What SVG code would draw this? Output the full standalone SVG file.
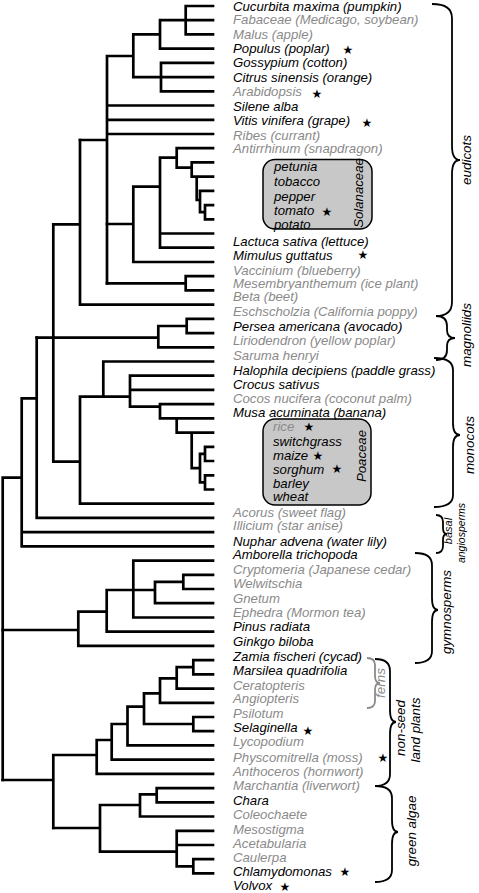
<svg xmlns="http://www.w3.org/2000/svg" width="479" height="893" viewBox="0 0 479 893">
<style>
text{font-family:"Liberation Sans",Arial,sans-serif;font-style:italic;font-size:13.2px}
.b{fill:#000}.g{fill:#8a8a8a}
.br{fill:none;stroke:#000;stroke-width:1.8}
.gl{font-size:13.4px}
.st{font-family:"DejaVu Sans",sans-serif;font-style:normal;font-size:12px;fill:#000;text-anchor:middle}
.box{fill:#c8c8c8;stroke:#000;stroke-width:1.5}
#tree path{fill:none;stroke:#000;stroke-width:2.7;stroke-linecap:square}
</style>
<g id="boxes">
<rect class="box" x="263" y="159.5" width="109" height="69.5" rx="12"/>
<rect class="box" x="263" y="419" width="108" height="86" rx="12"/>
</g>
<g id="tree">
<path d="M185.7 6H213M185.7 6V34.4M185.7 34.4H213M160 20.2H213M160 20.2V48.7M160 48.7H213M133.3 34.4H160M161 62.9H213M161 62.9V91.3M161 91.3H213M133.3 77.1H213M133.3 34.4V77.1M107 56H133.3M107 56V283.3M107 105.5H213M107 119.8H213M107 134H213M80 140H107"/>
<path d="M176.7 148.2H213M176.7 148.2V167.7M176.7 167.7H191.7M191.7 162.4V176.6M191.7 162.4H213M191.7 176.6H213M196.7 176.6V200M196.7 200H200M200 190.9V212.2M200 190.9H213M200 212.2H205M205 205.1V219.3M205 205.1H213M205 219.3H213M160 157.7H176.7M160 157.7V247.7M160 233.5H213M160 247.7H213M133.3 186.7H160M133.3 186.7V262M133.3 262H213M107 224H133.3M185.7 276.2V290.4M185.7 276.2H213M185.7 290.4H213M107 283.3H185.7M80 140V304.6M80 304.6H213M53.3 224.3H80"/>
<path d="M186.7 318.8V333.1M186.7 318.8H213M186.7 333.1H213M158.3 326H186.7M158.3 326V347.3M158.3 347.3H213M36.7 337.7H158.3"/>
<path d="M103.3 361.5V396.7M103.3 361.5H213M80 396.7H130M130 375.7V406.7M130 375.7H213M130 389.9H213M130 406.7H160M160 404.2V418.4M160 404.2H213M160 418.4H213M176.7 418.4V432.6M176.7 432.6H213M191.7 432.6V468.2M191.7 468.2H200M200 453.9V482.4M200 453.9H205M200 482.4H205M205 446.8V461M205 446.8H213M205 461H213M205 475.3V489.5M205 475.3H213M205 489.5H213M80 396.7V503.7M80 503.7H213M53.3 461.7H80M53.3 224.3V461.7"/>
<path d="M36.7 337.7V517.9M36.7 517.9H213M21.7 398.3H36.7M21.7 398.3V546.4M21.7 532.1H213M21.7 546.4H213M2.7 477.7H21.7M2.7 477.7V780"/>
<path d="M2.7 630H78.3M78.3 611.7V645.9M78.3 645.9H213M78.3 611.7H106.7M106.7 590V631.7M106.7 631.7H213M106.7 590H155M133.3 560.6V617.5M133.3 560.6H213M133.3 617.5H213M155 581.9V603.2M155 603.2H213M155 581.9H183.3M183.3 574.8V589M183.3 574.8H213M183.3 589H213"/>
<path d="M2.7 780H53.3M53.3 755V828M53.3 755H96.7M96.7 740V773.9M96.7 773.9H213M96.7 740H111.7M111.7 724V759.7M111.7 759.7H213M111.7 724H127.5M127.5 706.7V745.4M127.5 745.4H213M127.5 706.7H144M144 693.3V724M144 724H193.3M193.3 717V731.2M193.3 717H213M193.3 731.2H213M144 693.3H160M160 678.3V702.8M160 702.8H213M160 678.3H176.7M176.7 667.2V688.6M176.7 688.6H213M176.7 667.2H193.3M193.3 660.1V674.3M193.3 660.1H213M193.3 674.3H213"/>
<path d="M53.3 828H100M100 805V851.7M100 805H140M140 794.3V816.5M140 816.5H213M140 794.3H156.7M156.7 788.1V802.3M156.7 788.1H213M156.7 802.3H213M100 851.7H176.7M176.7 830.8V866.3M176.7 830.8H213M176.7 845H213M176.7 866.3H193.3M193.3 859.2V873.4M193.3 859.2H213M193.3 873.4H213"/>
</g>
<g id="taxa">
<g id="t0"><text class="b" x="233" y="10.5">Cucurbita maxima (pumpkin)</text></g>
<g id="t1"><text class="g" x="233" y="24.3">Fabaceae (Medicago, soybean)</text></g>
<g id="t2"><text class="g" x="233" y="38.7">Malus (apple)</text></g>
<g id="t3"><text class="b" x="233" y="52.8">Populus (poplar)</text><text class="st" x="348" y="54.3">★</text></g>
<g id="t4"><text class="b" x="233" y="67.2">Gossypium (cotton)</text></g>
<g id="t5"><text class="b" x="233" y="81.8">Citrus sinensis (orange)</text></g>
<g id="t6"><text class="g" x="233" y="96.2">Arabidopsis</text><text class="st" x="317" y="97.8">★</text></g>
<g id="t7"><text class="b" x="233" y="111.2">Silene alba</text></g>
<g id="t8"><text class="b" x="233" y="125.2">Vitis vinifera (grape)</text><text class="st" x="367" y="126.8">★</text></g>
<g id="t9"><text class="g" x="233" y="139.5">Ribes (currant)</text></g>
<g id="t10"><text class="g" x="233" y="153.2">Antirrhinum (snapdragon)</text></g>
<g id="t11"><text class="b" x="274" y="171.2">petunia</text></g>
<g id="t12"><text class="b" x="274" y="185.5">tobacco</text></g>
<g id="t13"><text class="b" x="274" y="200.5">pepper</text></g>
<g id="t14"><text class="b" x="274" y="214.5">tomato</text><text class="st" x="327" y="215.8">★</text></g>
<g id="t15"><text class="b" x="274" y="228.8">potato</text></g>
<g id="t16"><text class="b" x="233" y="246.2">Lactuca sativa (lettuce)</text></g>
<g id="t17"><text class="b" x="233" y="259.5">Mimulus guttatus</text><text class="st" x="363" y="259.3">★</text></g>
<g id="t18"><text class="g" x="233" y="274.5">Vaccinium (blueberry)</text></g>
<g id="t19"><text class="g" x="233" y="287.8">Mesembryanthemum (ice plant)</text></g>
<g id="t20"><text class="g" x="233" y="301.2">Beta (beet)</text></g>
<g id="t21"><text class="g" x="233" y="316.2">Eschscholzia (California poppy)</text></g>
<g id="t22"><text class="b" x="233" y="330.5">Persea americana (avocado)</text></g>
<g id="t23"><text class="g" x="233" y="345.2">Liriodendron (yellow poplar)</text></g>
<g id="t24"><text class="g" x="233" y="359.5">Saruma henryi</text></g>
<g id="t25"><text class="b" x="233" y="374.5">Halophila decipiens (paddle grass)</text></g>
<g id="t26"><text class="b" x="233" y="388.5">Crocus sativus</text></g>
<g id="t27"><text class="g" x="233" y="402.8">Cocos nucifera (coconut palm)</text></g>
<g id="t28"><text class="b" x="233" y="417.2">Musa acuminata (banana)</text></g>
<g id="t29"><text class="g" x="273" y="431.2">rice</text><text class="st" x="309" y="430.5">★</text></g>
<g id="t30"><text class="b" x="273" y="446.2">switchgrass</text></g>
<g id="t31"><text class="b" x="273" y="460.2">maize</text><text class="st" x="318" y="460">★</text></g>
<g id="t32"><text class="b" x="273" y="473.5">sorghum</text><text class="st" x="337" y="472.8">★</text></g>
<g id="t33"><text class="b" x="273" y="487.8">barley</text></g>
<g id="t34"><text class="b" x="273" y="501.2">wheat</text></g>
<g id="t35"><text class="g" x="233" y="516.8">Acorus (sweet flag)</text></g>
<g id="t36"><text class="g" x="233" y="530.2">Illicium (star anise)</text></g>
<g id="t37"><text class="b" x="233" y="545.5">Nuphar advena (water lily)</text></g>
<g id="t38"><text class="b" x="233" y="558.8">Amborella trichopoda</text></g>
<g id="t39"><text class="g" x="233" y="573.5">Cryptomeria (Japanese cedar)</text></g>
<g id="t40"><text class="g" x="233" y="587.5">Welwitschia</text></g>
<g id="t41"><text class="g" x="233" y="602.8">Gnetum</text></g>
<g id="t42"><text class="g" x="233" y="617.2">Ephedra (Mormon tea)</text></g>
<g id="t43"><text class="b" x="233" y="631.2">Pinus radiata</text></g>
<g id="t44"><text class="b" x="233" y="645.5">Ginkgo biloba</text></g>
<g id="t45"><text class="b" x="233" y="660.5">Zamia fischeri (cycad)</text></g>
<g id="t46"><text class="b" x="233" y="674.5">Marsilea quadrifolia</text></g>
<g id="t47"><text class="g" x="233" y="689.5">Ceratopteris</text></g>
<g id="t48"><text class="g" x="233" y="702.8">Angiopteris</text></g>
<g id="t49"><text class="g" x="233" y="717.8">Psilotum</text></g>
<g id="t50"><text class="b" x="233" y="731.8">Selaginella</text><text class="st" x="308" y="735.3">★</text></g>
<g id="t51"><text class="g" x="233" y="746.2">Lycopodium</text></g>
<g id="t52"><text class="g" x="233" y="762.2">Physcomitrella (moss)</text><text class="st" x="383" y="762.3">★</text></g>
<g id="t53"><text class="g" x="233" y="775.5">Anthoceros (hornwort)</text></g>
<g id="t54"><text class="g" x="233" y="790.2">Marchantia (liverwort)</text></g>
<g id="t55"><text class="b" x="233" y="804.5">Chara</text></g>
<g id="t56"><text class="g" x="233" y="818.8">Coleochaete</text></g>
<g id="t57"><text class="g" x="233" y="833.5">Mesostigma</text></g>
<g id="t58"><text class="g" x="233" y="847.8">Acetabularia</text></g>
<g id="t59"><text class="g" x="233" y="862.2">Caulerpa</text></g>
<g id="t60"><text class="b" x="233" y="876.2">Chlamydomonas</text><text class="st" x="345" y="876.3">★</text></g>
<g id="t61"><text class="b" x="233" y="890.3">Volvox</text><text class="st" x="285" y="890.8">★</text></g>
</g>
<g id="family-labels">
<text class="b" transform="translate(363,193) rotate(-90)" text-anchor="middle">Solanaceae</text>
<text class="b" transform="translate(366,456) rotate(-90)" text-anchor="middle">Poaceae</text>
</g>
<g id="groups">
<g id="eudicots"><path class="br" d="M432 4Q452 4 452 18V146Q452 160 460 160Q452 160 452 174V302Q452 316 436 316"/><text class="b gl" transform="translate(471,160) rotate(-90)" text-anchor="middle">eudicots</text></g>
<g id="magnoliids"><path class="br" d="M436 316Q447 316 447 326V330Q447 338 455 338Q447 338 447 346V350Q447 360 436 360"/><text class="b gl" transform="translate(471,335) rotate(-90)" text-anchor="middle">magnoliids</text></g>
<g id="monocots"><path class="br" d="M434 358Q453 358 453 370V423Q453 435 460 435Q453 435 453 447V495Q453 507 434 507"/><text class="b gl" transform="translate(474,445) rotate(-90)" text-anchor="middle">monocots</text></g>
<g id="basal"><path class="br" d="M436 515Q443 515 443 522V528Q443 534 447 534Q443 534 443 540V546Q443 553 436 553"/><text class="b" style="font-size:11px" transform="translate(452,531) rotate(-90)" text-anchor="middle">basal</text><text class="b" style="font-size:10.5px" transform="translate(465,533) rotate(-90)" text-anchor="middle">angiosperms</text></g>
<g id="gymnosperms"><path class="br" d="M415 553Q432 553 432 565V598Q432 610 438 610Q432 610 432 622V651Q432 663 415 663"/><text class="b gl" transform="translate(451,612) rotate(-90)" text-anchor="middle">gymnosperms</text></g>
<g id="ferns"><path class="br" style="stroke:#8a8a8a" d="M367 658Q375 658 375 665V676Q375 683 380 683Q375 683 375 690V701Q375 708 367 708"/><text class="g gl" transform="translate(385,683) rotate(-90)" text-anchor="middle">ferns</text></g>
<g id="nonseed"><path class="br" d="M375 659Q390 659 390 671V710Q390 722 396 722Q390 722 390 734V774Q390 786 375 786"/><text class="b gl" transform="translate(405,728) rotate(-90)" text-anchor="middle">non-seed</text><text class="b gl" transform="translate(420,730) rotate(-90)" text-anchor="middle">land plants</text></g>
<g id="greenalgae"><path class="br" d="M375 786Q392 786 392 798V820Q392 832 398 832Q392 832 392 844V870Q392 882 375 882"/><text class="b gl" transform="translate(416,831) rotate(-90)" text-anchor="middle">green algae</text></g>
</g>
</svg>
